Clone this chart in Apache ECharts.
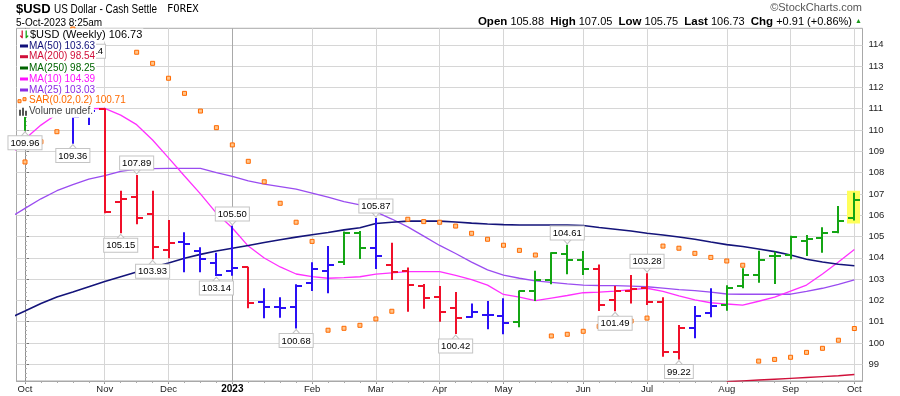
<!DOCTYPE html>
<html><head><meta charset="utf-8">
<script src="https://cdn.jsdelivr.net/npm/echarts@6/dist/echarts.min.js"></script>
<style>html,body{margin:0;padding:0;background:#fff}#c{width:900px;height:396px}</style>
</head><body><div id="c"></div>
<script>
// ---- DATA ----
const weekDates = ['2022-10-03','2022-10-10','2022-10-17','2022-10-24','2022-10-31','2022-11-07','2022-11-14','2022-11-21','2022-11-28','2022-12-05','2022-12-12','2022-12-19','2022-12-26','2023-01-02','2023-01-09','2023-01-16','2023-01-23','2023-01-30','2023-02-06','2023-02-13','2023-02-20','2023-02-27','2023-03-06','2023-03-13','2023-03-20','2023-03-27','2023-04-03','2023-04-10','2023-04-17','2023-04-24','2023-05-01','2023-05-08','2023-05-15','2023-05-22','2023-05-29','2023-06-05','2023-06-12','2023-06-19','2023-06-26','2023-07-03','2023-07-10','2023-07-17','2023-07-24','2023-07-31','2023-08-07','2023-08-14','2023-08-21','2023-08-28','2023-09-04','2023-09-11','2023-09-18','2023-09-25','2023-10-02'];
const opens  = [111.6,112.2,112.9,111.8,110.7,111.0,106.63,106.87,106.07,104.37,104.73,104.33,103.77,103.39,103.58,101.92,101.69,101.71,102.83,103.39,103.82,105.15,104.48,103.68,103.37,102.69,102.18,101.63,101.22,101.33,101.28,100.99,102.44,102.96,104.16,103.90,103.46,102.02,102.44,102.57,101.91,99.56,100.69,101.42,101.78,102.68,103.19,104.08,104.13,104.80,104.92,105.23,105.88];
const highs  = [112.6,113.6,113.6,112.1,113.14,111.02,107.15,107.89,107.15,105.77,105.20,104.49,104.24,105.50,103.58,102.57,102.15,102.76,103.79,104.55,105.23,105.26,105.87,104.71,103.55,102.77,102.68,102.39,101.86,101.97,102.10,102.46,103.39,104.26,104.61,104.32,103.69,102.68,103.19,103.28,102.15,100.85,101.74,102.57,102.71,103.51,104.33,104.29,105.04,105.07,105.43,106.43,107.05];
const lows   = [109.96,111.9,111.3,109.36,110.23,106.09,105.15,105.57,103.93,103.98,103.32,103.32,103.14,103.16,101.63,101.16,101.19,100.68,102.44,102.33,103.66,103.94,103.47,102.96,101.47,101.61,101.00,100.42,101.19,100.64,100.41,100.74,101.97,102.76,103.23,103.19,101.50,101.49,101.86,101.78,99.35,99.22,100.22,101.21,101.52,102.57,102.83,102.77,103.93,104.08,104.24,105.15,105.75];
const closes = [112.3,112.9,111.8,110.6,110.9,106.17,106.78,105.88,104.49,104.71,104.63,103.94,103.19,103.54,101.86,101.71,101.64,102.68,103.46,103.66,105.15,104.48,104.08,103.32,102.72,102.13,101.46,101.19,101.44,101.33,100.95,102.42,102.96,104.21,103.90,103.47,101.78,102.44,102.54,101.91,99.56,100.69,101.26,101.74,102.60,103.19,103.90,104.08,104.99,104.87,105.18,105.74,106.73];
// Elder-impulse state of each weekly bar: U = up, D = down, N = neutral
const impulse = ['U','U','N','N','N','D','D','D','D','D','N','N','N','N','D','N','N','N','N','N','U','U','N','D','D','D','D','D','N','N','N','U','U','U','U','U','D','D','D','D','D','D','N','N','U','U','U','U','U','U','U','U','U'];
// moving averages: first value is the prior week (2022-09-26), then one per week above
const maPriorWeek = '2022-09-26';
const ma50  = [101.16,101.50,101.85,102.16,102.39,102.64,102.89,103.11,103.33,103.55,103.76,103.98,104.16,104.32,104.45,104.58,104.72,104.85,104.97,105.08,105.19,105.31,105.41,105.61,105.67,105.72,105.73,105.72,105.68,105.63,105.59,105.56,105.54,105.54,105.54,105.54,105.52,105.42,105.34,105.26,105.15,105.07,104.98,104.87,104.74,104.62,104.53,104.41,104.29,104.13,103.93,103.80,103.70,103.63];
const ma10  = [108.73,109.58,110.23,110.75,110.94,111.00,111.02,110.70,110.25,109.53,108.69,107.84,107.00,106.10,105.40,104.55,103.99,103.57,103.24,103.12,103.04,103.07,103.11,103.23,103.29,103.35,103.35,103.35,103.17,102.98,102.72,102.28,102.15,101.99,102.11,102.23,102.36,102.39,102.44,102.51,102.57,102.42,102.21,102.02,101.89,101.83,101.78,101.96,102.15,102.44,102.72,103.24,103.80,104.39];
const ma25  = [105.87,106.32,106.77,107.15,107.44,107.69,107.86,108.06,108.17,108.19,108.20,108.20,108.20,108.00,107.82,107.61,107.46,107.34,107.22,107.04,106.85,106.64,106.48,106.16,105.82,105.45,105.02,104.58,104.20,103.80,103.43,103.19,103.04,102.92,102.85,102.78,102.72,102.70,102.69,102.67,102.64,102.58,102.51,102.46,102.39,102.30,102.29,102.29,102.29,102.29,102.42,102.57,102.75,102.96];
const ma200 = [null,null,null,null,null,null,null,null,null,null,null,null,null,null,null,null,null,null,null,null,null,null,null,null,null,null,null,null,null,null,null,null,null,null,null,null,null,null,null,null,null,null,null,null,null,98.18,98.22,98.26,98.30,98.34,98.38,98.42,98.46,98.52];
const sar   = [108.50,109.45,109.92,114.74,114.63,114.52,114.50,113.65,113.13,112.43,111.72,110.89,110.11,109.30,108.53,107.57,106.56,105.67,104.77,100.60,100.69,100.83,101.13,101.49,105.81,105.70,105.67,105.49,105.15,104.87,104.59,104.35,104.13,100.33,100.41,100.55,100.78,100.90,101.03,101.17,104.55,104.45,104.21,104.02,103.85,103.65,99.15,99.23,99.33,99.56,99.75,100.13,100.68];
const highLabelWeeks = [4,7,13,22,34,39];
const lowLabelWeeks  = [0,3,6,8,12,17,27,37,41];
const monthWeeks  = [0,5,9,13,18,22,26,30,35,39,44,48,52];
const monthLabels = ['Oct','Nov','Dec','2023','Feb','Mar','Apr','May','Jun','Jul','Aug','Sep','Oct'];
const yTicks = [99,100,101,102,103,104,105,106,107,108,109,110,111,112,113,114];
const legendRows = [
  {text:'MA(50) 103.63', color:'#10107a'},
  {text:'MA(200) 98.54', color:'#d0103a'},
  {text:'MA(250) 98.25', color:'#006400'},
  {text:'MA(10) 104.39', color:'#ff10ff'},
  {text:'MA(25) 103.03', color:'#8a2be2'}
];

// ---- CHART ----
const FONT = "'Liberation Sans',Arial,sans-serif";
const IMPULSE_COLORS = {U:'#14a514', D:'#f0102a', N:'#2a10f5'};
const weekIdx = weekDates.map((d, i) => i);
const last = weekIdx.length - 1;
const ohlc = weekIdx.map(i => [i, opens[i], highs[i], lows[i], closes[i]]);
const maX = k => k - 1; // MA arrays start one week before weekDates
const minorY = [];
for (let v = 98.4; v < 114.8; v += 0.2) minorY.push(+v.toFixed(1));

const chart = echarts.init(document.getElementById('c'), null, {renderer:'canvas'});
const X_MIN = -0.533, X_MAX = 52.51, Y_MIN = 98.216, Y_MAX = 114.775;
const calloutLabel = {
  show:true, formatter: p => p.value[1].toFixed(2), color:'#000', fontFamily:FONT, fontSize:9.5,
  backgroundColor:'#fff', borderColor:'#c4c4c4', borderWidth:1, padding:[2,2,1,2]
};
const notchStyle = {color:'#fff', borderColor:'#c4c4c4', borderWidth:1, opacity:1};
const splitColors = monthWeeks.map((w, i) => monthLabels[i] === '2023' ? '#a9a9a9' : '#d6d6d6');

const option = {
  animation:false,
  backgroundColor:'#fff',
  grid:{left:16.5, right:37.5, top:28.3, bottom:15, show:true, borderColor:'#a8a8a8', borderWidth:1, backgroundColor:'#fff'},
  xAxis:[{
    type:'value', min:X_MIN, max:X_MAX, position:'bottom',
    axisLine:{show:true, lineStyle:{color:'#a8a8a8'}},
    axisTick:{show:true, customValues:monthWeeks, length:3, lineStyle:{color:'#888'}},
    axisLabel:{customValues:monthWeeks, margin:3, color:'#222', fontFamily:FONT, fontSize:9.5,
      formatter: v => { const i = monthWeeks.indexOf(v); const t = monthLabels[i]; return t === '2023' ? '{b|' + t + '}' : t; },
      rich:{b:{fontWeight:'bold', fontFamily:FONT, fontSize:10, color:'#000'}}},
    splitLine:{show:true, lineStyle:{color:splitColors, width:1}}
  },{
    type:'value', min:X_MIN, max:X_MAX, position:'bottom',
    axisLine:{show:false},
    axisTick:{show:true, customValues:weekIdx, length:2, lineStyle:{color:'#aaa'}},
    axisLabel:{show:false}, splitLine:{show:false}
  }],
  yAxis:[{
    type:'value', min:Y_MIN, max:Y_MAX, position:'right',
    axisLine:{show:true, lineStyle:{color:'#909090'}},
    axisTick:{show:true, customValues:yTicks, length:4, lineStyle:{color:'#777'}},
    axisLabel:{customValues:yTicks, margin:6, color:'#222', fontFamily:FONT, fontSize:9.5},
    splitLine:{show:true, lineStyle:{color:'#d6d6d6'}}
  },{
    type:'value', min:Y_MIN, max:Y_MAX, position:'right',
    axisLine:{show:false},
    axisTick:{show:true, customValues:minorY, length:2, lineStyle:{color:'#b0b0b0'}},
    axisLabel:{show:false}, splitLine:{show:false}
  }],
  series:[
    {type:'line', name:'MA(200)', data:ma200.map((v, k) => [maX(k), v]), symbol:'none', z:2, lineStyle:{color:'#d0103a', width:1.4}},
    {type:'line', name:'MA(25)', data:ma25.map((v, k) => [maX(k), v]), symbol:'none', z:2, lineStyle:{color:'#9a4cf0', width:1.3}},
    {type:'line', name:'MA(10)', data:ma10.map((v, k) => [maX(k), v]), symbol:'none', z:2, lineStyle:{color:'#ff30ff', width:1.3}},
    {type:'line', name:'MA(50)', data:ma50.map((v, k) => [maX(k), v]), symbol:'none', z:2, lineStyle:{color:'#14147a', width:1.6}},
    {type:'custom', name:'$USD', z:3, data:ohlc, clip:true,
     renderItem:(params, api) => {
       const i = api.value(0);
       const o = api.coord([i, api.value(1)]), h = api.coord([i, api.value(2)]);
       const l = api.coord([i, api.value(3)]), c = api.coord([i, api.value(4)]);
       const x = Math.round(h[0]);
       const col = IMPULSE_COLORS[impulse[params.dataIndex]];
       const ch = [];
       if (params.dataIndex === last) ch.push({type:'rect', shape:{x:x-7, y:h[1]-2, width:13, height:l[1]-h[1]+5}, style:{fill:'#ffff5a'}});
       ch.push({type:'line', shape:{x1:x, y1:h[1], x2:x, y2:l[1]}, style:{stroke:col, lineWidth:2}});
       ch.push({type:'line', shape:{x1:x-6, y1:Math.round(o[1]), x2:x, y2:Math.round(o[1])}, style:{stroke:col, lineWidth:2}});
       ch.push({type:'line', shape:{x1:x, y1:Math.round(c[1]), x2:x+6, y2:Math.round(c[1])}, style:{stroke:col, lineWidth:2}});
       return {type:'group', children:ch};
     }},
    {type:'scatter', name:'SAR', z:4, data:weekIdx.map(i => [i, sar[i]]), symbol:'rect', symbolSize:4,
     itemStyle:{color:'#ffc48a', borderColor:'#ff6a00', borderWidth:1, opacity:1}},
    {type:'scatter', name:'hiLabels', z:5, data:highLabelWeeks.map(w => [w, highs[w]]),
     symbol:'triangle', symbolRotate:180, symbolSize:[9,5], symbolOffset:[0,-3.5], itemStyle:notchStyle,
     label:Object.assign({position:'top', distance:-1}, calloutLabel)},
    {type:'scatter', name:'loLabels', z:5, data:lowLabelWeeks.map(w => [w, lows[w]]),
     symbol:'triangle', symbolSize:[9,5], symbolOffset:[0,3.5], itemStyle:notchStyle,
     label:Object.assign({position:'bottom', distance:-1}, calloutLabel)}
  ],
  graphic:[]
};

// header & legend (text)
const g = [];
g.push({type:'text', x:16, y:9.5, z:100, style:{text:'$USD', font:'bold 13px ' + FONT, fill:'#000', verticalAlign:'middle'}});
g.push({type:'text', x:54, y:9.5, z:100, scaleX:0.83, style:{text:'US Dollar - Cash Settle', font:'12px ' + FONT, fill:'#000', verticalAlign:'middle'}});
g.push({type:'text', x:167, y:9.5, z:100, style:{text:'FOREX', font:'10.5px "DejaVu Sans Mono",monospace', fill:'#000', verticalAlign:'middle'}});
g.push({type:'text', x:16, y:23, z:100, style:{text:'5-Oct-2023 8:25am', font:'10px ' + FONT, fill:'#000', verticalAlign:'middle'}});
g.push({type:'text', x:862, y:8, z:100, style:{text:'©StockCharts.com', font:'11px ' + FONT, fill:'#555', align:'right', verticalAlign:'middle'}});
g.push({type:'text', x:852, y:21.5, z:100, style:{
  text:'{b|Open} 105.88  {b|High} 107.05  {b|Low} 105.75  {b|Last} 106.73  {b|Chg} +0.91 (+0.86%)',
  font:'11px ' + FONT, fill:'#000', align:'right', verticalAlign:'middle', rich:{b:{font:'bold 11.5px ' + FONT, fill:'#000'}}}});
g.push({type:'text', x:855, y:21.5, z:100, style:{text:'▲', font:'7px sans-serif', fill:'#1a9a1a', verticalAlign:'middle'}});
// legend panel
g.push({type:'rect', z:90, shape:{x:17, y:29, width:76, height:88}, style:{fill:'#fff'}});
const LY = [35, 46, 56.7, 68, 79, 90, 100.7, 111.7];
const LFONT = '10px ' + FONT;
g.push({type:'text', z:100, x:18, y:LY[0], style:{text:'⇃', font:'bold 10px sans-serif', fill:'#d01030', verticalAlign:'middle'}});
g.push({type:'text', z:100, x:22, y:LY[0], style:{text:'⇂', font:'bold 10px sans-serif', fill:'#14a514', verticalAlign:'middle'}});
g.push({type:'text', z:100, x:30, y:LY[0], style:{text:'$USD (Weekly) 106.73', font:'11px ' + FONT, fill:'#000', backgroundColor:'#fff', padding:[1,1,1,0], verticalAlign:'middle'}});
legendRows.forEach((r, k) => {
  const y = LY[k + 1];
  g.push({type:'rect', z:100, shape:{x:20, y:y - 1.5, width:8, height:3}, style:{fill:r.color}});
  g.push({type:'text', z:100, x:29, y:y, style:{text:r.text, font:LFONT, fill:r.color, backgroundColor:'#fff', padding:[1,1,1,0], verticalAlign:'middle'}});
});
g.push({type:'rect', z:100, shape:{x:18, y:LY[6] - 1, width:3, height:3}, style:{fill:'#ffc48a', stroke:'#ff6a00', lineWidth:1}});
g.push({type:'rect', z:100, shape:{x:23, y:LY[6] - 3, width:3, height:3}, style:{fill:'#ffc48a', stroke:'#ff6a00', lineWidth:1}});
g.push({type:'text', z:100, x:29, y:LY[6], style:{text:'SAR(0.02,0.2) 100.71', font:LFONT, fill:'#ff6a00', backgroundColor:'#fff', padding:[1,1,1,0], verticalAlign:'middle'}});
g.push({type:'rect', z:100, shape:{x:19, y:LY[7] - 2, width:2, height:6}, style:{fill:'#555'}});
g.push({type:'rect', z:100, shape:{x:22, y:LY[7] - 4, width:2, height:8}, style:{fill:'#555'}});
g.push({type:'rect', z:100, shape:{x:25, y:LY[7] - 1, width:2, height:5}, style:{fill:'#555'}});
g.push({type:'text', z:100, x:29, y:LY[7], style:{text:'Volume undef.', font:LFONT, fill:'#444', backgroundColor:'#fff', padding:[1,1,1,0], verticalAlign:'middle'}});
option.graphic = g;
chart.setOption(option);
</script></body></html>
